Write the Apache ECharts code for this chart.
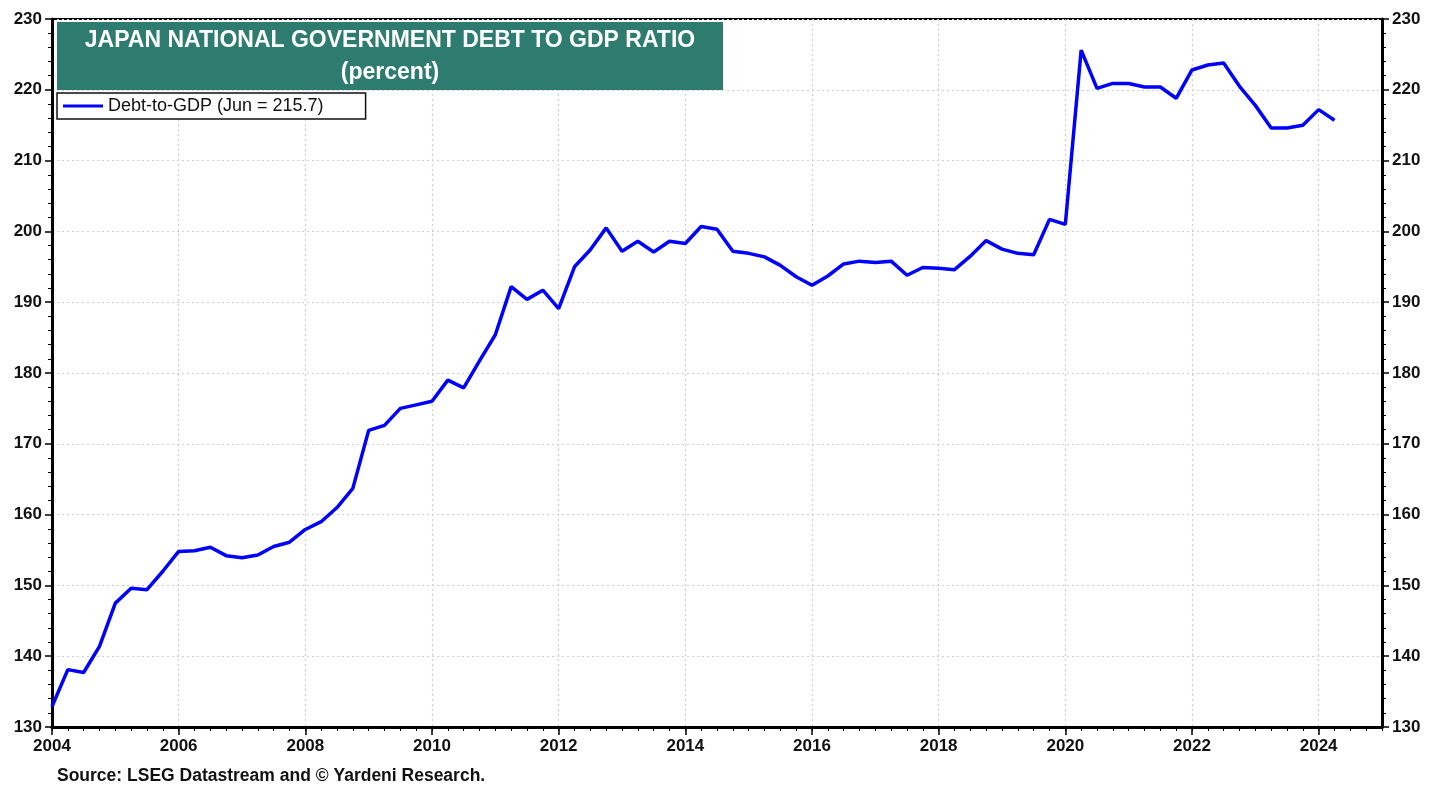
<!DOCTYPE html>
<html>
<head>
<meta charset="utf-8">
<script src="https://cdn.jsdelivr.net/npm/echarts@6/dist/echarts.min.js"></script>
<style>
html,body{margin:0;padding:0;background:#fff;}
#chart{width:1442px;height:791px;}
</style>
</head>
<body>
<div id="chart"></div>
<script>
// Quarterly observations, 2004 Q1 .. 2024 Q2
const quarters = [
 '2004Q1','2004Q2','2004Q3','2004Q4','2005Q1','2005Q2','2005Q3','2005Q4',
 '2006Q1','2006Q2','2006Q3','2006Q4','2007Q1','2007Q2','2007Q3','2007Q4',
 '2008Q1','2008Q2','2008Q3','2008Q4','2009Q1','2009Q2','2009Q3','2009Q4',
 '2010Q1','2010Q2','2010Q3','2010Q4','2011Q1','2011Q2','2011Q3','2011Q4',
 '2012Q1','2012Q2','2012Q3','2012Q4','2013Q1','2013Q2','2013Q3','2013Q4',
 '2014Q1','2014Q2','2014Q3','2014Q4','2015Q1','2015Q2','2015Q3','2015Q4',
 '2016Q1','2016Q2','2016Q3','2016Q4','2017Q1','2017Q2','2017Q3','2017Q4',
 '2018Q1','2018Q2','2018Q3','2018Q4','2019Q1','2019Q2','2019Q3','2019Q4',
 '2020Q1','2020Q2','2020Q3','2020Q4','2021Q1','2021Q2','2021Q3','2021Q4',
 '2022Q1','2022Q2','2022Q3','2022Q4','2023Q1','2023Q2','2023Q3','2023Q4',
 '2024Q1','2024Q2'
];
const debtToGdp = [
 132.9,138.1,137.7,141.4, 147.5,149.6,149.4,152.0,
 154.8,154.9,155.4,154.2, 153.9,154.3,155.5,156.1,
 157.9,159.0,161.0,163.7, 171.9,172.6,175.0,175.5,
 176.0,179.0,177.9,181.7, 185.4,192.2,190.4,191.7,
 189.1,195.0,197.4,200.5, 197.2,198.6,197.1,198.6,
 198.3,200.7,200.3,197.2, 196.9,196.4,195.2,193.6,
 192.4,193.7,195.4,195.8, 195.6,195.8,193.8,194.9,
 194.8,194.6,196.5,198.7, 197.5,196.9,196.7,201.7,
 201.0,225.6,220.2,220.9, 220.9,220.4,220.4,218.8,
 222.8,223.5,223.8,220.5, 217.8,214.6,214.6,215.0,
 217.2,215.7
];
const seriesName = 'Debt-to-GDP (Jun = 215.7)';
const titleLines = ['JAPAN NATIONAL GOVERNMENT DEBT TO GDP RATIO', '(percent)'];
const sourceText = 'Source: LSEG Datastream and \u00A9 Yardeni Research.';
const xMin = 2004, xMax = 2025, xLabelStep = 2;
const yMin = 130, yMax = 230, yStep = 10;

function qToYear(q){ return parseInt(q.slice(0,4),10) + (parseInt(q.slice(5),10)-1)/4; }
const points = quarters.map((q,i)=>[qToYear(q), debtToGdp[i]]);

const FONT = '"Liberation Sans", Arial, sans-serif';
const chart = echarts.init(document.getElementById('chart'), null, {renderer:'canvas'});
const gridSpec = {left:52, right:60, top:19, bottom:64};

const yCommon = {
  type:'value', min:yMin, max:yMax, interval:yStep,
  axisLine:{show:true, lineStyle:{color:'#000', width:3}},
  axisTick:{show:true, length:7, lineStyle:{color:'#000', width:1.5}},
  minorTick:{show:true, splitNumber:5, length:4, lineStyle:{color:'#000', width:1}},
  axisLabel:{color:'#111', fontFamily:FONT, fontWeight:'bold', fontSize:17, margin:10},
};

chart.setOption({
  animation:false,
  backgroundColor:'#fff',
  grid:{...gridSpec, show:true, borderColor:'#000', borderWidth:2, backgroundColor:'transparent'},
  legend:{
    show:true, left:57, top:93, orient:'horizontal',
    backgroundColor:'#fff', borderColor:'#111', borderWidth:1.5, borderRadius:0,
    padding:[4,42,4,6], itemWidth:40, itemHeight:3, itemGap:6,
    icon:'rect',
    textStyle:{color:'#111', fontFamily:FONT, fontSize:18, fontWeight:'normal'},
    data:[seriesName]
  },
  xAxis:[
    {
      type:'value', min:xMin, max:xMax, interval:xLabelStep,
      axisLine:{show:true, lineStyle:{color:'#000', width:3}},
      axisTick:{show:true, length:8, lineStyle:{color:'#000', width:1.5}},
      axisLabel:{color:'#111', fontFamily:FONT, fontWeight:'bold', fontSize:17, margin:11,
        showMaxLabel:false, formatter:v=>String(v)},
      splitLine:{show:true, lineStyle:{color:'#cfcfcf', type:[2,3], width:1.2}}
    },
    {
      type:'value', min:xMin, max:xMax, interval:0.25, position:'bottom',
      axisLine:{show:false},
      axisTick:{show:true, length:4, lineStyle:{color:'#000', width:1}},
      axisLabel:{show:false},
      splitLine:{show:false}
    }
  ],
  yAxis:[
    {...yCommon, position:'left',
      splitLine:{show:true, lineStyle:{color:'#cfcfcf', type:[2,3], width:1.2}}},
    {...yCommon, position:'right', splitLine:{show:false}}
  ],
  series:[{
    name:seriesName, type:'line', xAxisIndex:0, yAxisIndex:0,
    data:points, showSymbol:false, symbol:'none',
    lineStyle:{color:'#0000ff', width:3.5}, itemStyle:{color:'#0000ff'},
    z:5
  }],
  graphic:[
    {type:'rect', left:57, top:22, z:10, shape:{width:666, height:68},
      style:{fill:'#2e7c6f'}},
    {type:'text', z:11, x:390, y:29,
      style:{text:titleLines[0], fill:'#fff', font:'bold 23px '+FONT, textAlign:'center', textVerticalAlign:'top'}},
    {type:'text', z:11, x:390, y:61,
      style:{text:titleLines[1], fill:'#fff', font:'bold 23px '+FONT, textAlign:'center', textVerticalAlign:'top'}},
    {type:'text', z:11, left:57, top:767,
      style:{text:sourceText, fill:'#111', font:'bold 17.5px '+FONT}}
  ]
});
</script>
</body>
</html>
